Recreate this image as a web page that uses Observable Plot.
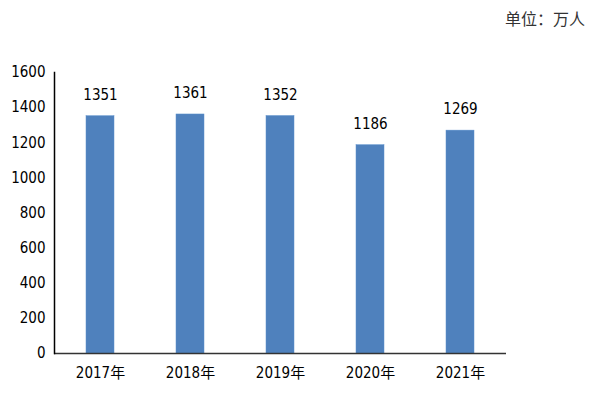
<!DOCTYPE html>
<html>
<head>
<meta charset="utf-8">
<script src="https://cdn.jsdelivr.net/npm/d3@7"></script>
<script src="https://cdn.jsdelivr.net/npm/@observablehq/plot@0.6"></script>
<style>
body{margin:0;background:#fff;font-family:"Arial Narrow","Liberation Sans Narrow","DejaVu Sans Condensed","Noto Sans CJK SC",sans-serif;}
#unit{height:40px;box-sizing:border-box;padding-top:8px;line-height:20px;text-align:right;padding-right:15px;font-size:16px;color:#333;font-family:"Noto Sans CJK SC",sans-serif;}
</style>
</head>
<body>
<div id="unit">单位：万人</div>
<div id="chart"></div>
<script>
const years = ["2017年","2018年","2019年","2020年","2021年"];
const values = [1351,1361,1352,1186,1269];
const yTicks = [0,200,400,600,800,1000,1200,1400,1600];
const data = years.map((y,i)=>({year:y, value:values[i]}));
const font = '"Arial Narrow","Liberation Sans Narrow","DejaVu Sans Condensed","Noto Sans CJK SC",sans-serif';
const chart = Plot.plot({
  width:600, height:360,
  marginTop:32, marginBottom:47, marginLeft:54, marginRight:94,
  style:{fontFamily:font, fontSize:"15px", color:"#000", background:"#fff"},
  x:{domain:years, paddingInner:0.69, paddingOuter:0.345, label:null},
  y:{domain:[0,1600], label:null},
  marks:[
    Plot.barY(data,{x:"year", y:"value", fill:"#4F81BD", stroke:"#5B8FCC", strokeWidth:0.5}),
    Plot.text(data,{x:"year", y:"value", text:d=>String(d.value), dy:-21, fontSize:15, fill:"#000"}),
    Plot.axisY({ticks:yTicks, tickFormat:d=>String(d), tickSize:0, tickPadding:9, label:null, fontSize:15}),
    Plot.axisX({tickSize:0, tickPadding:14, label:null, fontSize:15}),
    Plot.ruleY([0],{stroke:"#333", strokeWidth:1.5}),
    Plot.frame({anchor:"left", stroke:"#000", strokeWidth:1.5})
  ]
});
document.getElementById("chart").appendChild(chart);
</script>
</body>
</html>
